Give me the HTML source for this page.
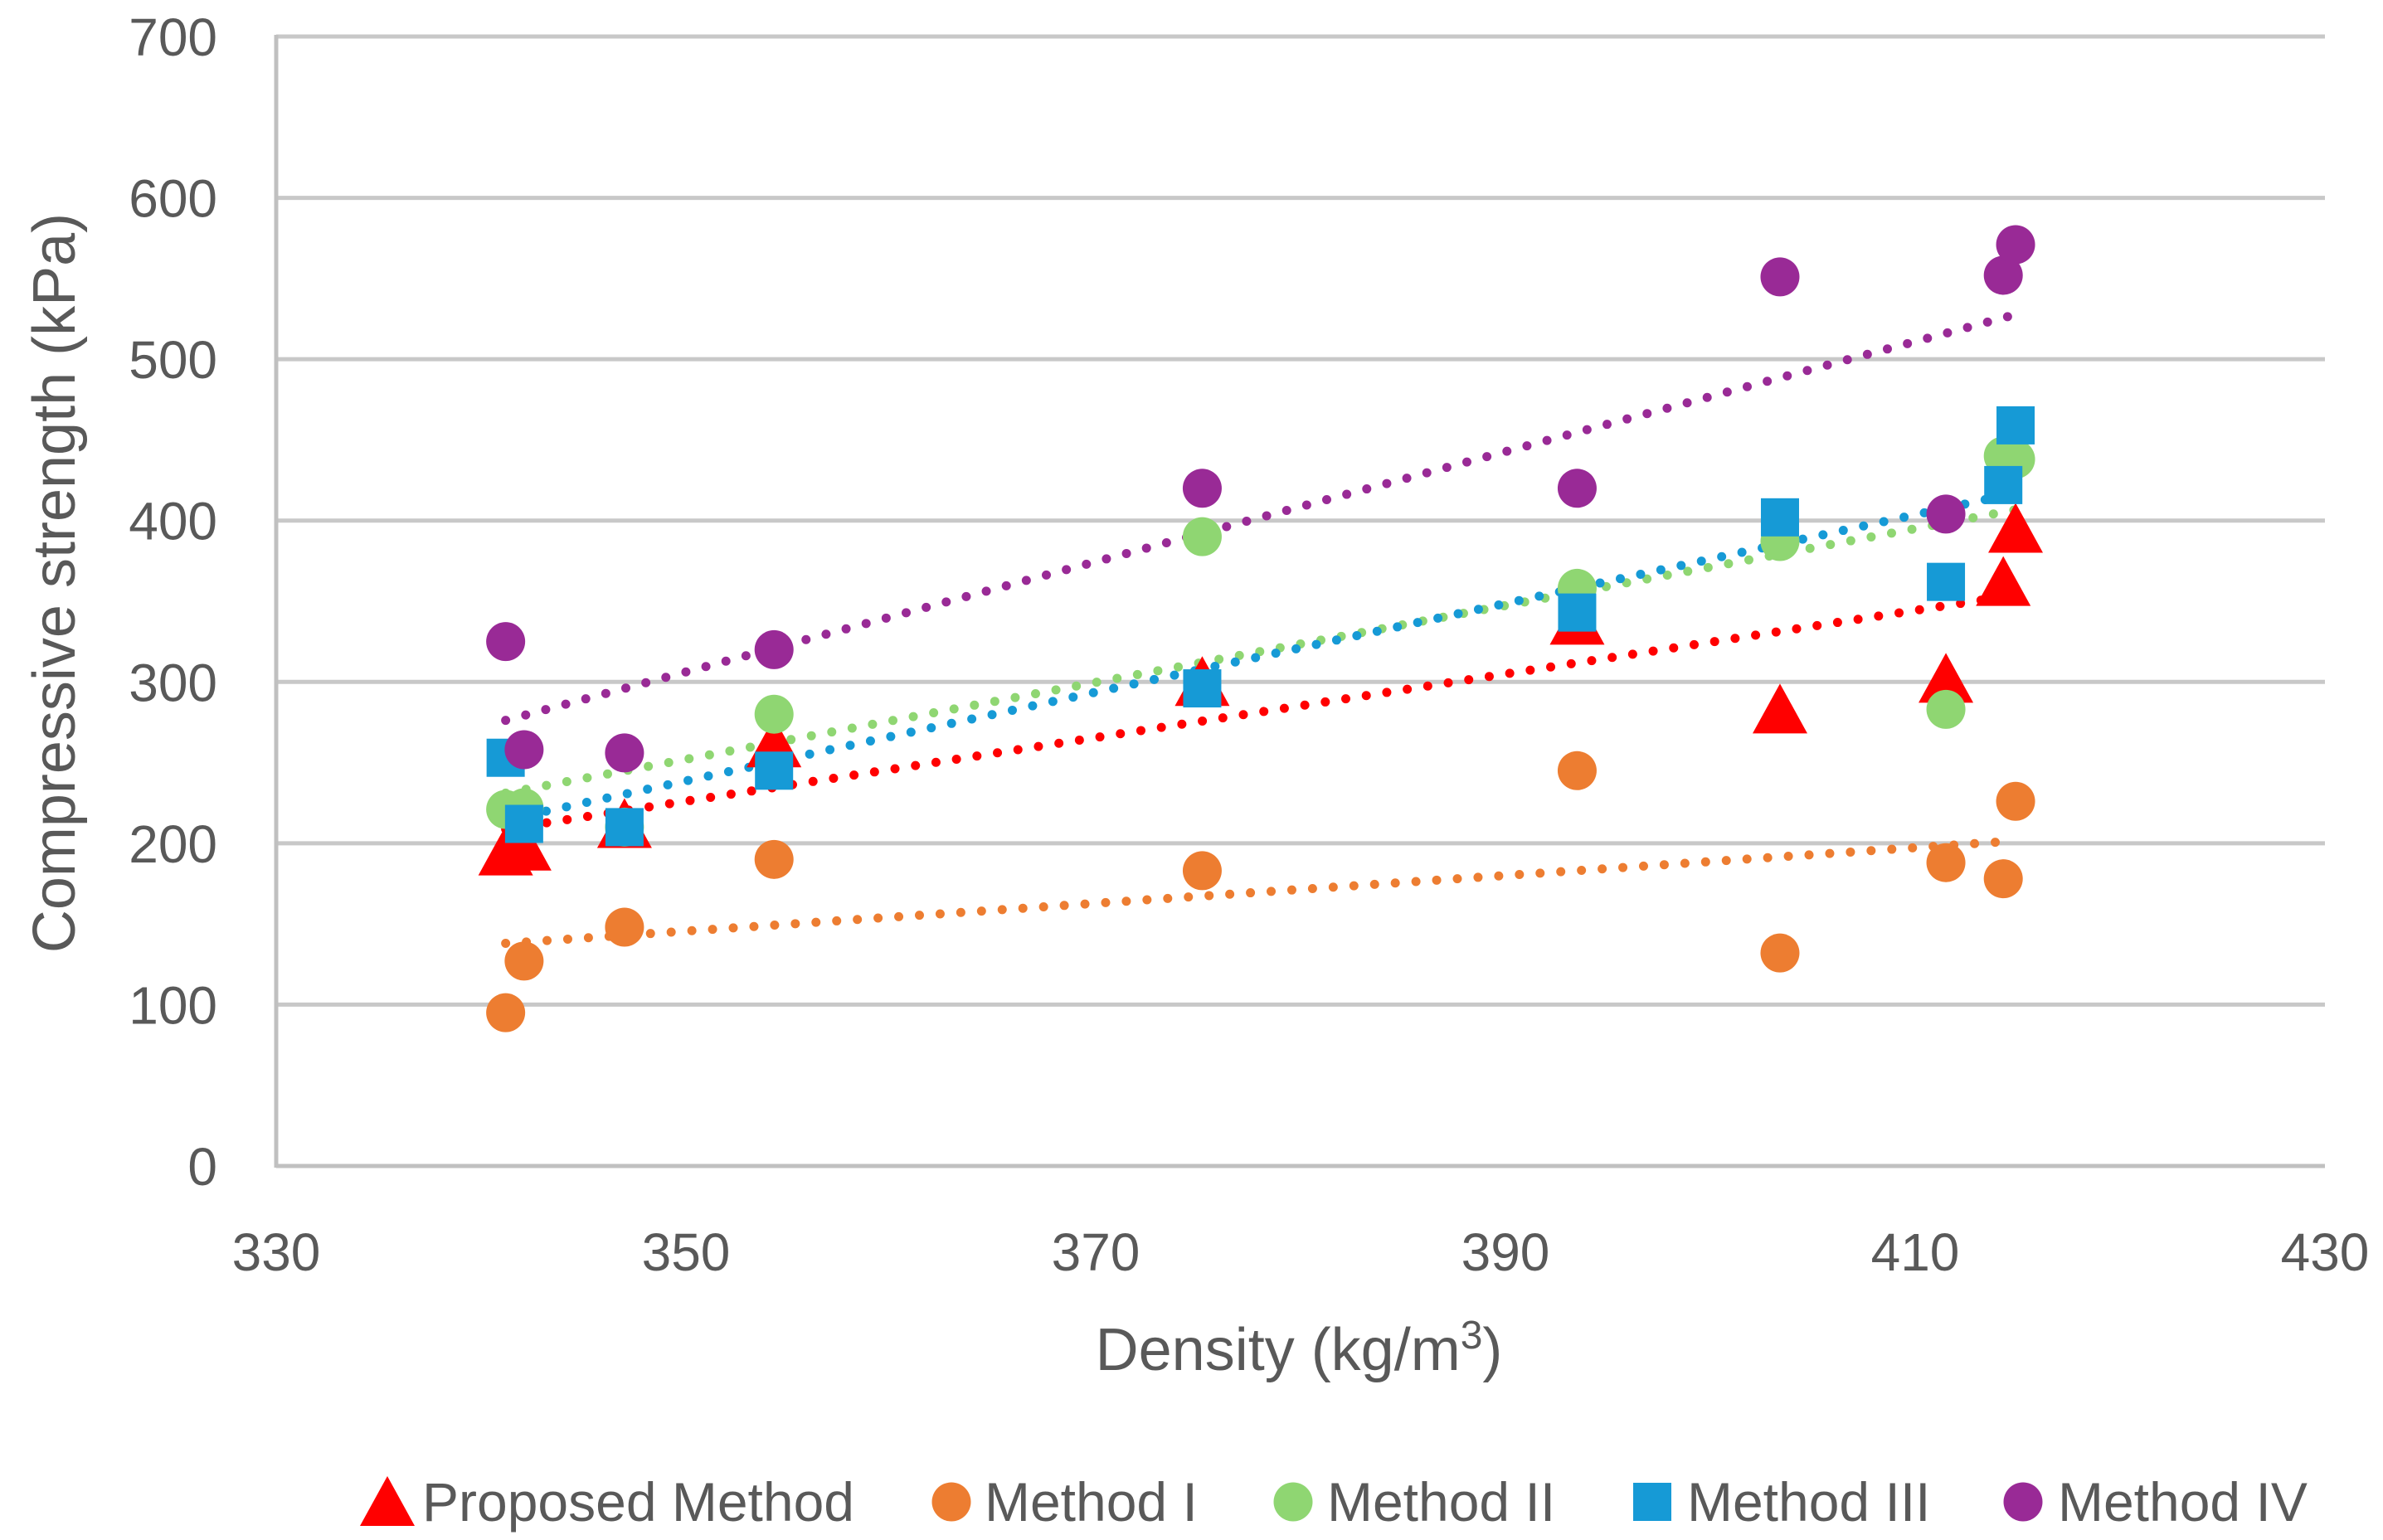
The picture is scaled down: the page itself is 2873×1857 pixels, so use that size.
<!DOCTYPE html>
<html>
<head>
<meta charset="utf-8">
<style>
html,body{margin:0;padding:0;background:#fff;}
svg{display:block;}
text{font-family:"Liberation Sans",sans-serif;fill:#595959;}
</style>
</head>
<body>
<svg id="chart" width="2873" height="1857" viewBox="0 0 2873 1857" xmlns="http://www.w3.org/2000/svg">
<g id="grid"></g>
<g id="axes"></g>
<g id="trends"></g>
<g id="marks"></g>
<text x="1566" y="1652" font-size="72" text-anchor="middle">Density (kg/m<tspan font-size="48" dy="-26">3</tspan><tspan dy="26">)</tspan></text>
<text transform="translate(90,703) rotate(-90)" font-size="72" text-anchor="middle">Compressive strength (kPa)</text>
<g id="legend"></g>
</svg>
<script>
const xTicks = [330, 350, 370, 390, 410, 430];
const yTicks = [0, 100, 200, 300, 400, 500, 600, 700];
const seriesNames = ["Proposed Method", "Method I", "Method II", "Method III", "Method IV"];
const density = [341.2, 342.1, 347, 354.3, 375.2, 393.5, 403.4, 411.5, 414.3, 414.9];
const proposed = [195, 198, 212, 262, 300, 338, 283, 302, 362, 395];
const method1 = [95, 127, 148, 190, 183, 245, 132, 188, 178, 226];
const method2 = [221, 222, 210, 280, 390, 358, 387, 283, 440, 438];
const method3 = [253, 212, 210, 245, 296, 343, 402, 362, 422, 459];
const method4 = [325, 258, 256, 320, 420, 420, 551, 404, 552, 571];

const NS = "http://www.w3.org/2000/svg";
const X0 = 333, X1 = 2803, Y0 = 1406, Y1 = 44;
function sx(v){ return X0 + (v - 330) / 100 * (X1 - X0); }
function sy(v){ return Y0 - v / 700 * (Y0 - Y1); }
function mk(tag, attrs, parent){
  const e = document.createElementNS(NS, tag);
  for (const k in attrs) e.setAttribute(k, attrs[k]);
  parent.appendChild(e);
  return e;
}
const grid = document.getElementById('grid');
const axes = document.getElementById('axes');
yTicks.forEach(t => {
  if (t > 0) {
    const l = mk('line', {x1: X0, x2: X1, y1: sy(t), y2: sy(t), stroke: '#c8c8c8', 'stroke-width': 5}, grid);
    
    
  }
  const tx = mk('text', {x: 262, y: sy(t) + 23, 'font-size': 64, 'text-anchor': 'end'}, axes);
  tx.textContent = t;
  
  
});
xTicks.forEach(t => {
  const tx = mk('text', {x: sx(t), y: 1532, 'font-size': 64, 'text-anchor': 'middle'}, axes);
  tx.textContent = t;
  
  
});
const ya = mk('line', {x1: X0, x2: X0, y1: Y1 - 2, y2: Y0 + 2, stroke: '#c0c0c0', 'stroke-width': 5}, axes);


const xa = mk('line', {x1: X0, x2: X1, y1: Y0, y2: Y0, stroke: '#c0c0c0', 'stroke-width': 5}, axes);



const allSeries = [proposed, method1, method2, method3, method4];
const colors = ['#ff0000', '#ed7d31', '#8fd672', '#169ad6', '#992a96'];
const shapes = ['tri', 'circle', 'circle', 'square', 'circle'];

function drawMarker(shape, cx, cy, color, parent){
  if (shape === 'circle') return mk('circle', {cx: cx, cy: cy, r: 23.5, fill: color}, parent);
  if (shape === 'square') return mk('rect', {x: cx - 23, y: cy - 23, width: 46, height: 46, fill: color}, parent);
  return mk('polygon', {points: (cx) + ',' + (cy - 31) + ' ' + (cx + 33) + ',' + (cy + 29) + ' ' + (cx - 33) + ',' + (cy + 29), fill: color}, parent);
}

const trends = document.getElementById('trends');
const marks = document.getElementById('marks');
allSeries.forEach((ys, si) => {
  const n = density.length;
  let mx = 0, my = 0;
  for (let i = 0; i < n; i++){ mx += density[i]; my += ys[i]; }
  mx /= n; my /= n;
  let sxy = 0, sxx = 0;
  for (let i = 0; i < n; i++){ sxy += (density[i]-mx)*(ys[i]-my); sxx += (density[i]-mx)*(density[i]-mx); }
  const b = sxy / sxx, a = my - b * mx;
  const xmin = Math.min.apply(null, density), xmax = Math.max.apply(null, density);
  const tl = mk('line', {x1: sx(xmin), y1: sy(a + b*xmin), x2: sx(xmax), y2: sy(a + b*xmax), stroke: colors[si], 'stroke-width': 11, 'stroke-linecap': 'round', 'stroke-dasharray': '0 25'}, trends);
  
  
});
allSeries.forEach((ys, si) => {
  ys.forEach((v, i) => {
    const m = drawMarker(shapes[si], sx(density[i]), sy(v), colors[si], marks);
    
    
  });
});

const legend = document.getElementById('legend');
const legMarkX = [467, 1147, 1559, 1992, 2439];
const legTextX = [509, 1187, 1600, 2034, 2481];
seriesNames.forEach((nm, si) => {
  const g = mk('g', {}, legend);
  
  
  drawMarker(shapes[si], legMarkX[si], 1811, colors[si], g);
  const t = mk('text', {x: legTextX[si], y: 1834, 'font-size': 66}, g);
  t.textContent = nm;
});
</script>
</body>
</html>
